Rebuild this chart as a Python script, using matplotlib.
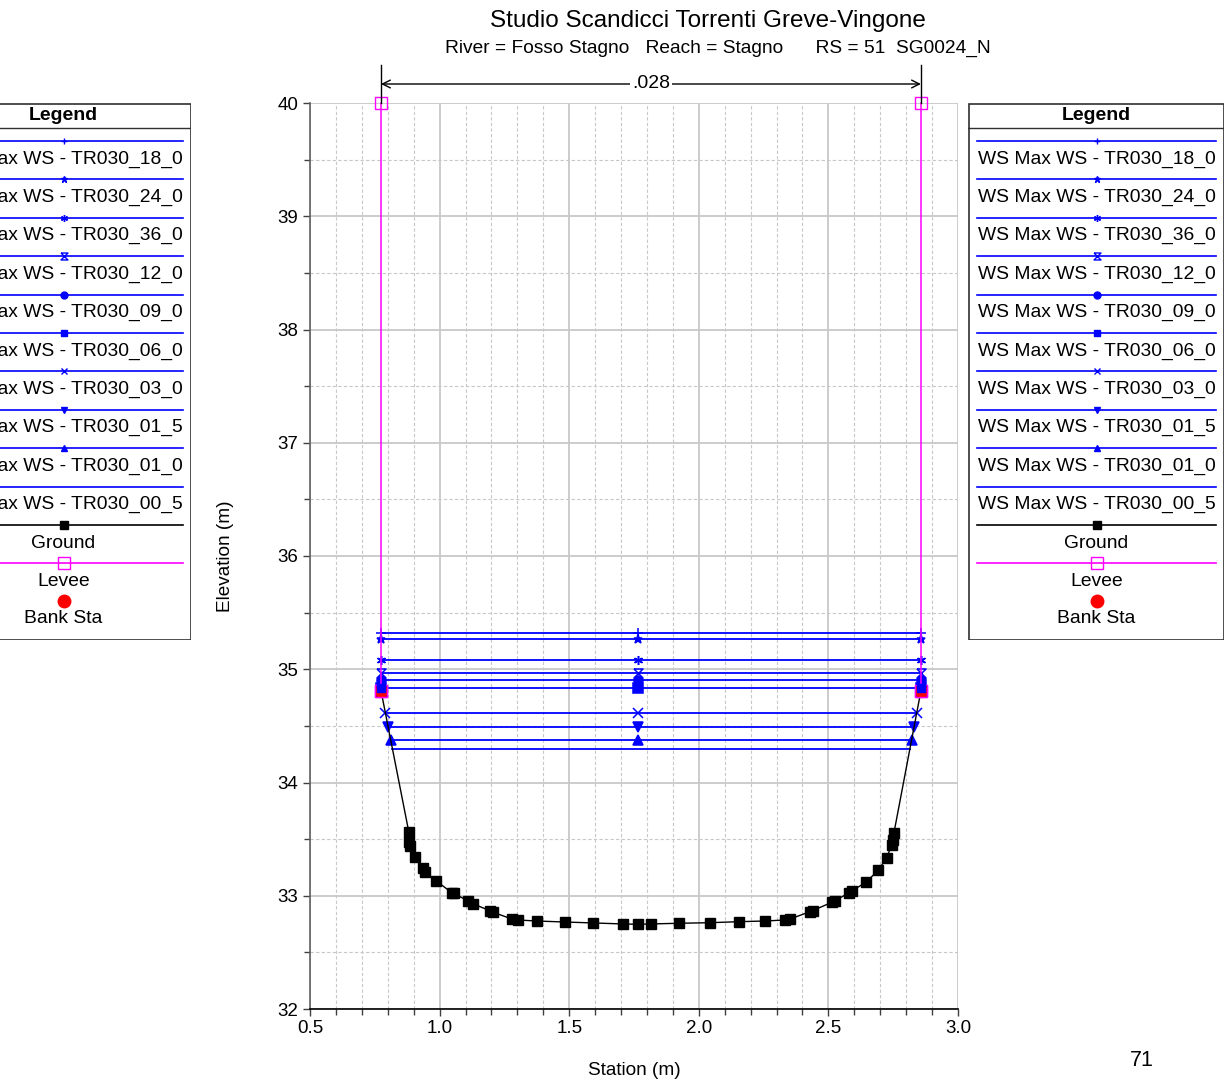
import numpy as np
import matplotlib
matplotlib.use("Agg")
import matplotlib.pyplot as plt
from matplotlib.patches import Rectangle
from matplotlib.ticker import MultipleLocator, FormatStrFormatter

plt.rcParams['font.family'] = ['Liberation Sans', 'DejaVu Sans']

# ground profile (station m, elevation m)
ground_sta = [0.774, 0.881, 0.883, 0.886, 0.905, 0.937, 0.944, 0.986, 1.047, 1.056,
              1.108, 1.130, 1.194, 1.207, 1.278, 1.301, 1.375, 1.484, 1.591, 1.706,
              1.767, 1.814, 1.924, 2.043, 2.154, 2.254, 2.333, 2.352, 2.429, 2.439,
              2.513, 2.525, 2.581, 2.590, 2.645, 2.693, 2.725, 2.744, 2.750, 2.753,
              2.857]
ground_elev = [34.81, 33.566, 33.477, 33.439, 33.345, 33.242, 33.212, 33.133, 33.027, 33.022,
               32.954, 32.928, 32.868, 32.854, 32.795, 32.786, 32.777, 32.768, 32.760, 32.751,
               32.748, 32.751, 32.757, 32.762, 32.771, 32.777, 32.786, 32.795, 32.859, 32.868,
               32.942, 32.956, 33.027, 33.042, 33.119, 33.227, 33.336, 33.448, 33.492, 33.557,
               34.81]

levee_sta = [0.774, 2.857]
levee_top = 40.0
bank_sta = [0.774, 2.857]
bank_elev = [34.81, 34.81]
mann_n = ".028"

profiles = ["TR030_18_0", "TR030_24_0", "TR030_36_0", "TR030_12_0", "TR030_09_0",
            "TR030_06_0", "TR030_03_0", "TR030_01_5", "TR030_01_0", "TR030_00_5"]
ws_elev = [35.317, 35.267, 35.082, 34.970, 34.902, 34.834, 34.611, 34.487, 34.375, 34.296]
mid_sta = 1.767

hourglass = [(-1, 1), (1, 1), (-1, -1), (1, -1), (-1, 1)]
ws_markers = ['+', '*', (6, 2, 0), hourglass, 'o', 's', 'x', 'v', '^', None]
ws_fill = ['full', 'full', 'full', 'none', 'full', 'full', 'full', 'full', 'full', 'full']

BLUE = '#0000ff'

fig = plt.figure(figsize=(12.24, 10.89), dpi=100)
W, H = 1224, 1089
ax = fig.add_axes([310 / W, 1 - 1009 / H, 648 / W, 906 / H])

ax.set_xlim(0.5, 3.0)
ax.set_ylim(32, 40)

# grid
ax.xaxis.set_major_locator(MultipleLocator(0.5))
ax.xaxis.set_minor_locator(MultipleLocator(0.1))
ax.yaxis.set_major_locator(MultipleLocator(1))
ax.yaxis.set_minor_locator(MultipleLocator(0.5))
ax.xaxis.set_major_formatter(FormatStrFormatter('%.1f'))
ax.grid(which='major', color='#c8c8c8', lw=1.3, ls='-', zorder=0)
ax.grid(which='minor', color='#c8c8c8', lw=0.8, ls=(0, (3, 2)), zorder=0)
ax.set_axisbelow(True)
for s in ['top', 'right']:
    ax.spines[s].set_visible(False)
ax.spines['left'].set_color('#606060')
ax.spines['left'].set_linewidth(1.2)
ax.spines['bottom'].set_color('black')
ax.spines['bottom'].set_linewidth(1.2)
ax.tick_params(which='major', length=5, width=1, labelsize=13.5, color='#404040')
ax.tick_params(which='minor', length=4, width=1, color='#404040')
ax.tick_params(axis='x', pad=3)

ax.set_xlabel("Station (m)", fontsize=13.7, labelpad=18)
ax.set_ylabel("Elevation (m)", fontsize=13.7, labelpad=31)

# water surfaces
gs = np.array(ground_sta)
ge = np.array(ground_elev)
imin = int(np.argmin(ge))
for h, mk, fs in zip(ws_elev, ws_markers, ws_fill):
    xl = np.interp(h, ge[:imin + 1][::-1], gs[:imin + 1][::-1])
    xr = np.interp(h, ge[imin:], gs[imin:])
    ax.plot([xl, xr], [h, h], color=BLUE, lw=1.3, zorder=3)
    if mk is not None:
        ax.plot([xl, mid_sta, xr], [h, h, h], ls='none', marker=mk, ms=6.5,
                color=BLUE, mec=BLUE, mew=1.1, fillstyle=fs, zorder=4)

# ground
ax.plot(ground_sta, ground_elev, color='black', lw=1.0, marker='s', ms=6.5,
        mfc='black', mec='black', zorder=5)

# levee
for s in levee_sta:
    ax.plot([s, s], [bank_elev[0], levee_top], color='#ff00ff', lw=1.1,
            marker='s', ms=8, mfc='none', mec='#ff00ff', mew=1.0, zorder=6, clip_on=False)

# bank stations
ax.plot(bank_sta, bank_elev, ls='none', marker='o', ms=8.5, color='red', zorder=6)
ax.plot(bank_sta, bank_elev, ls='none', marker='s', ms=8, mfc='none', mec='#ff00ff', zorder=6)
ax.plot(bank_sta, [ws_elev[5]] * 2, ls='none', marker='s', ms=6, color=BLUE, zorder=7)

# manning n dimension line
ytop = 40.0 + 38 / 113.25
yarr = 40.0 + 19 / 113.25
for s in levee_sta:
    ax.plot([s, s], [40.0, ytop], color='black', lw=1.0, clip_on=False, zorder=6)
ax.annotate('', xy=(levee_sta[0], yarr), xytext=(levee_sta[1], yarr),
            arrowprops=dict(arrowstyle='<->', color='black', lw=1.0,
                            shrinkA=0, shrinkB=0, mutation_scale=14),
            annotation_clip=False)
ax.text(np.mean(levee_sta), yarr, mann_n, ha='center', va='center', fontsize=14,
        bbox=dict(fc='white', ec='none', pad=1.5), clip_on=False, zorder=7)

# titles
fig.text(708 / W, 1 - 21 / H, "Studio Scandicci Torrenti Greve-Vingone",
         ha='center', va='center', fontsize=17.5)
fig.text(718 / W, 1 - 48 / H,
         "River = Fosso Stagno   Reach = Stagno      RS = 51  SG0024_N",
         ha='center', va='center', fontsize=13.8)
fig.text(1142 / W, 1 - 1060 / H, "71", ha='center', va='center', fontsize=15.5)


def draw_legend(x0):
    lax = fig.add_axes([x0 / W, 1 - 640 / H, 256 / W, 537 / H])
    lax.set_xlim(0, 256)
    lax.set_ylim(537, 0)
    lax.axis('off')
    lax.add_patch(Rectangle((0.5, 0.5), 255, 536, fill=False, ec='#303030', lw=1.2))
    lax.text(128, 12, "Legend", ha='center', va='center', fontsize=14, fontweight='bold')
    lax.plot([0, 256], [25, 25], color='#303030', lw=1.0)
    step = 38.4
    for i, (p, mk, fs) in enumerate(zip(profiles, ws_markers, ws_fill)):
        y = 38 + step * i
        lax.plot([9, 248], [y, y], color=BLUE, lw=1.2)
        if mk is not None:
            lax.plot([128.5], [y], marker=mk, ms=5, color=BLUE, mec=BLUE,
                     mew=1.0, fillstyle=fs)
        lax.text(128.5, y + 18, "WS Max WS - " + p, ha='center', va='center', fontsize=13.9)
    y = 38 + step * 10
    lax.plot([9, 248], [y, y], color='black', lw=1.2)
    lax.plot([128.5], [y], marker='s', ms=6, color='black')
    lax.text(128.5, y + 18, "Ground", ha='center', va='center', fontsize=13.9)
    y = 38 + step * 11
    lax.plot([9, 248], [y, y], color='#ff00ff', lw=1.2)
    lax.plot([128.5], [y], marker='s', ms=8, mfc='none', mec='#ff00ff', mew=1.0)
    lax.text(128.5, y + 18, "Levee", ha='center', va='center', fontsize=13.9)
    y = 38 + step * 12
    lax.plot([128.5], [y - 1], marker='o', ms=9, color='red', ls='none')
    lax.text(128.5, y + 17, "Bank Sta", ha='center', va='center', fontsize=13.9)


draw_legend(-65)
draw_legend(968)

fig.savefig("out.png", dpi=100)
